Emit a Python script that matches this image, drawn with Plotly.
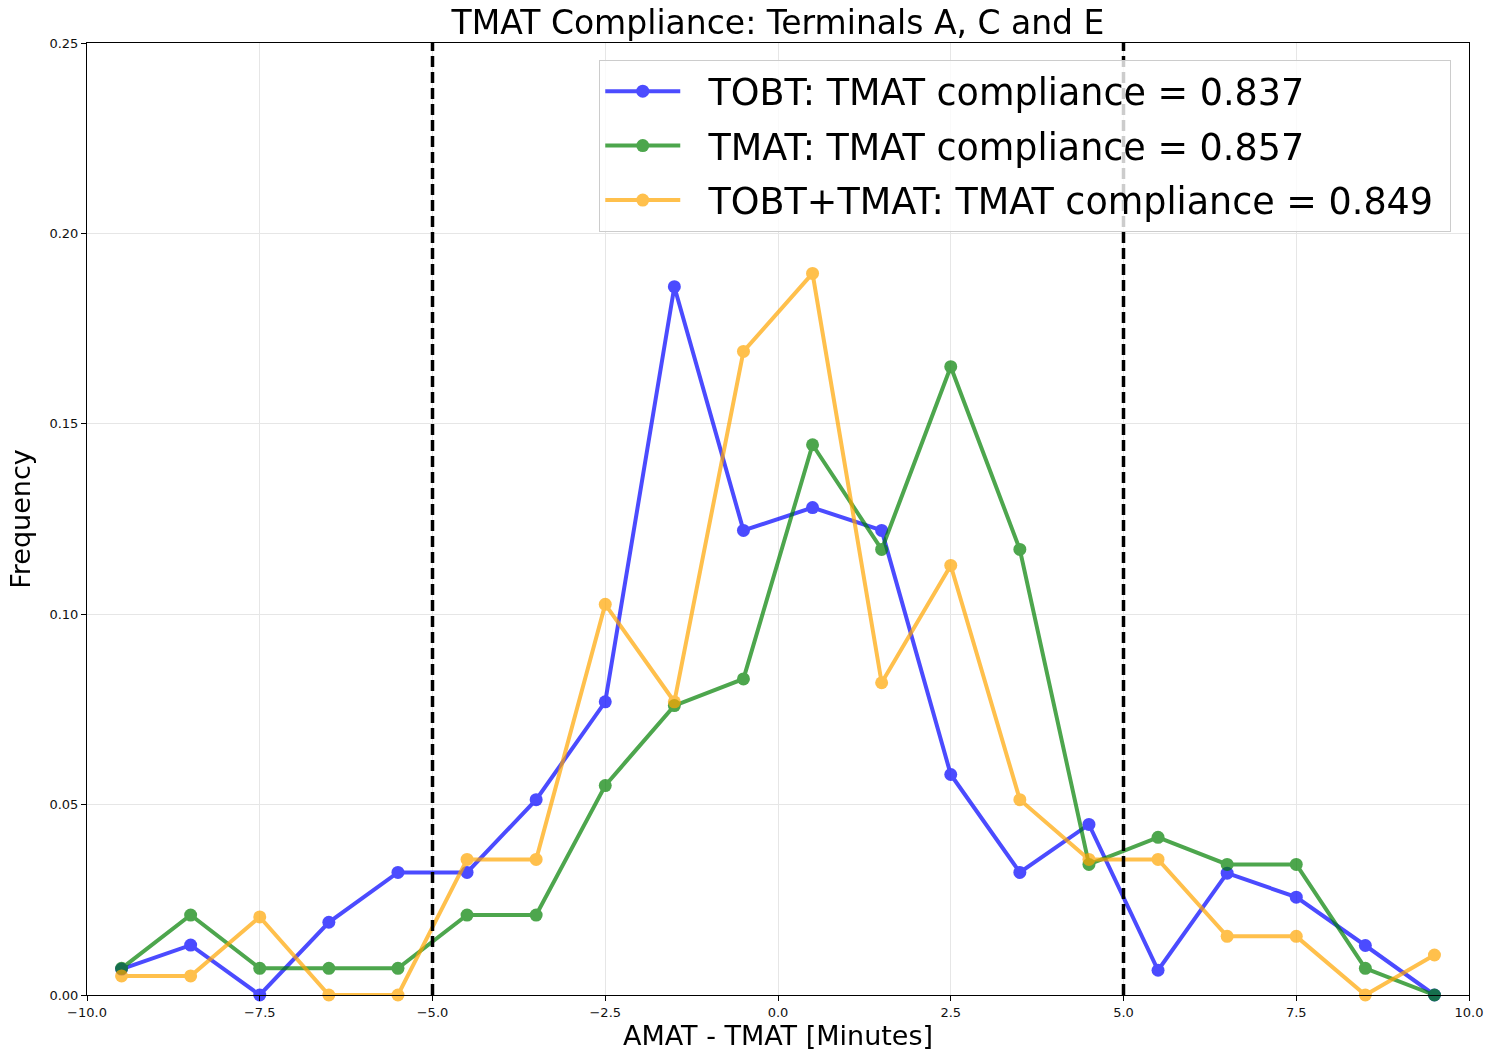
import plotly.graph_objects as go

x_bins = [-9.5, -8.5, -7.5, -6.5, -5.5, -4.5, -3.5, -2.5, -1.5, -0.5,
          0.5, 1.5, 2.5, 3.5, 4.5, 5.5, 6.5, 7.5, 8.5, 9.5]

tobt = [0.0068, 0.0131, 0.0, 0.0191, 0.0322, 0.0322, 0.0513, 0.077, 0.186, 0.122,
        0.128, 0.122, 0.0579, 0.0322, 0.0448, 0.0065, 0.032, 0.0257, 0.013, 0.0]
tmat = [0.007, 0.021, 0.007, 0.007, 0.007, 0.021, 0.021, 0.055, 0.076, 0.083,
        0.1445, 0.117, 0.165, 0.117, 0.0343, 0.0414, 0.0343, 0.0343, 0.007, 0.0]
both = [0.005, 0.005, 0.0205, 0.0, 0.0, 0.0356, 0.0356, 0.1026, 0.077, 0.169,
        0.1895, 0.082, 0.1128, 0.0513, 0.0356, 0.0356, 0.0154, 0.0154, 0.0, 0.0105]

names = ["TOBT: TMAT compliance = 0.837",
         "TMAT: TMAT compliance = 0.857",
         "TOBT+TMAT: TMAT compliance = 0.849"]
colors = ["#0000FF", "#008000", "#FFA500"]
compliance_bounds = [-5, 5]

x_ticks = [-10.0, -7.5, -5.0, -2.5, 0.0, 2.5, 5.0, 7.5, 10.0]
y_ticks = [0.0, 0.05, 0.10, 0.15, 0.20, 0.25]

fig = go.Figure()
for i, (name, ys, c) in enumerate(zip(names, [tobt, tmat, both], colors)):
    fig.add_trace(go.Scatter(
        x=x_bins, y=ys, name="\u00a0\u00a0" + name + "\u00a0", mode="lines+markers",
        line=dict(color=c, width=4),
        marker=dict(color=c, size=13),
        opacity=0.7,
        cliponaxis=False,
        legendgroup="g%d" % i,
    ))

for b in compliance_bounds:
    fig.add_shape(type="line", xref="x", yref="paper", x0=b, x1=b, y0=0, y1=1,
                  line=dict(color="black", width=3.5, dash="11px,5px"), layer="above")

axis_common = dict(
    showline=True, linecolor="black", linewidth=1, mirror=True,
    ticks="outside", ticklen=5, tickcolor="black", tickwidth=1,
    showgrid=True, gridcolor="#e6e6e6", gridwidth=1, zeroline=False,
    tickfont=dict(family="DejaVu Sans", size=13, color="#111"),
)

W, H = 1495, 1055
fig.update_layout(
    width=W, height=H,
    paper_bgcolor="white", plot_bgcolor="white",
    margin=dict(l=87, r=24, t=43, b=57),
    font=dict(family="DejaVu Sans", color="black"),
    title=dict(text="TMAT Compliance: Terminals A, C and E", x=0.5, xref="paper",
               xanchor="center", yref="container", y=1 - 22 / H, yanchor="middle",
               font=dict(family="DejaVu Sans", size=33, color="black")),
    xaxis=dict(range=[-10, 10], tickvals=x_ticks, tickformat=".1f",
               title=dict(text="AMAT - TMAT [Minutes]", standoff=5,
                          font=dict(family="DejaVu Sans", size=27, color="black")),
               **axis_common),
    yaxis=dict(range=[0, 0.25], tickvals=y_ticks, tickformat=".2f",
               title=dict(text="Frequency", standoff=10,
                          font=dict(family="DejaVu Sans", size=27, color="black")),
               **axis_common),
    legend=dict(x=(600 - 87) / 1384, y=(998 - 60) / 955, xanchor="left", yanchor="top",
                bgcolor="rgba(255,255,255,0.8)", bordercolor="#cccccc", borderwidth=1,
                font=dict(family="DejaVu Sans", size=36.5, color="black"),
                itemwidth=75, tracegroupgap=4),
    showlegend=True,
)

fig.write_html("out.html",
               config={"displayModeBar": False},
               post_script="document.body.style.margin='0px';document.body.style.padding='0px';document.body.style.overflow='hidden';")
